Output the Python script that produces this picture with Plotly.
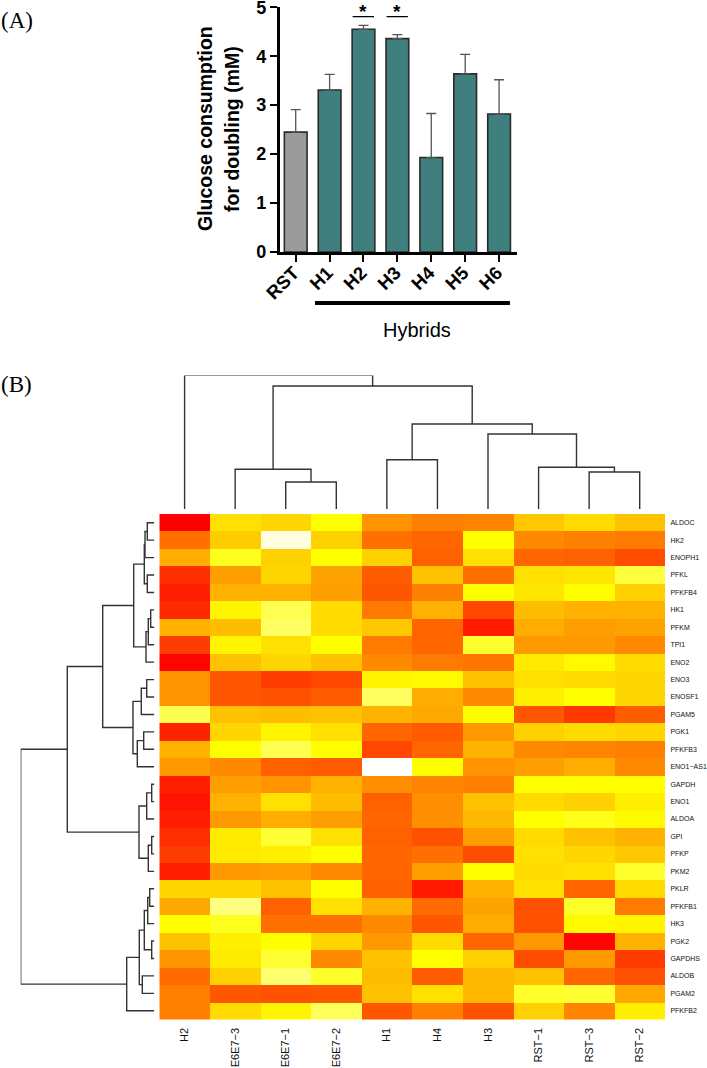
# -*- coding: utf-8 -*-
import plotly.graph_objects as go

W, H = 707, 1068

# panel A
groups = ["RST", "H1", "H2", "H3", "H4", "H5", "H6"]
glucose = [2.45, 3.31, 4.55, 4.36, 1.93, 3.64, 2.82]
glucose_err = [0.46, 0.32, 0.08, 0.08, 0.90, 0.40, 0.70]
bar_colors = ["#9b9b9b", "#3f7f7d", "#3f7f7d", "#3f7f7d", "#3f7f7d", "#3f7f7d", "#3f7f7d"]
signif = ["H2", "H3"]

# panel B
samples = ["H2", "E6E7−3", "E6E7−1", "E6E7−2", "H1", "H4", "H3", "RST−1", "RST−3", "RST−2"]
genes = ["ALDOC", "HK2", "ENOPH1", "PFKL", "PFKFB4", "HK1", "PFKM", "TPI1", "ENO2", "ENO3",
         "ENOSF1", "PGAM5", "PGK1", "PFKFB3", "ENO1−AS1", "GAPDH", "ENO1", "ALDOA", "GPI",
         "PFKP", "PKM2", "PKLR", "PFKFB1", "HK3", "PGK2", "GAPDHS", "ALDOB", "PGAM2", "PFKFB2"]
expr = [
    [0, 44, 42, 50, 29, 25, 26, 39, 43, 38],
    [22, 40, 94, 41, 22, 20, 50, 27, 25, 24],
    [34, 56, 41, 50, 41, 19, 44, 20, 19, 15],
    [9, 31, 42, 32, 18, 38, 22, 44, 45, 62],
    [6, 35, 35, 31, 17, 25, 50, 45, 50, 41],
    [8, 48, 66, 43, 24, 35, 14, 37, 35, 35],
    [35, 37, 69, 43, 39, 20, 5, 34, 31, 32],
    [12, 48, 44, 50, 24, 20, 59, 30, 30, 27],
    [1, 38, 42, 38, 27, 24, 23, 46, 49, 43],
    [29, 17, 12, 14, 48, 49, 38, 44, 43, 42],
    [29, 17, 16, 18, 69, 34, 27, 47, 50, 42],
    [66, 38, 37, 38, 35, 33, 50, 17, 11, 18],
    [7, 42, 48, 44, 20, 18, 30, 41, 43, 42],
    [35, 50, 66, 50, 14, 20, 35, 27, 26, 25],
    [30, 27, 19, 18, 100, 50, 29, 31, 34, 27],
    [6, 31, 29, 35, 28, 26, 25, 50, 50, 50],
    [4, 35, 44, 37, 19, 28, 38, 43, 41, 47],
    [6, 30, 34, 31, 20, 28, 36, 50, 55, 49],
    [9, 46, 60, 44, 19, 16, 31, 43, 38, 35],
    [12, 46, 47, 50, 20, 22, 15, 44, 42, 39],
    [6, 30, 31, 27, 20, 31, 50, 43, 44, 59],
    [42, 42, 38, 50, 19, 5, 35, 44, 20, 43],
    [33, 75, 19, 44, 35, 21, 32, 16, 58, 24],
    [50, 56, 22, 22, 27, 17, 34, 16, 49, 48],
    [38, 47, 50, 42, 30, 43, 20, 30, 1, 35],
    [29, 46, 60, 27, 38, 50, 41, 15, 30, 12],
    [21, 41, 72, 58, 37, 18, 36, 38, 20, 16],
    [25, 17, 16, 17, 38, 44, 36, 58, 60, 33],
    [25, 43, 48, 68, 17, 25, 16, 41, 26, 47],
]

# merges: (left, right, height), an int points at an earlier merge
col_merges = [
    ("E6E7−1", "E6E7−2", 2.7),
    ("E6E7−3", 0, 3.97),
    ("H1", "H4", 4.93),
    ("RST−3", "RST−2", 3.7),
    ("RST−1", 3, 4.17),
    ("H3", 4, 7.5),
    (2, 5, 8.5),
    (1, 6, 12.3),
    ("H2", 7, 13.36),
]
row_merges = [
    ("ALDOC", "HK2", 0.70),
    (0, "ENOPH1", 0.93),
    ("PFKL", "PFKFB4", 0.70),
    (1, 2, 1.0),
    ("HK1", "PFKM", 0.36),
    (4, "TPI1", 0.60),
    (5, "ENO2", 0.83),
    (3, 6, 2.06),
    ("ENO3", "ENOSF1", 0.76),
    (8, "PGAM5", 1.30),
    ("PGK1", "PFKFB3", 1.06),
    (10, "ENO1−AS1", 1.70),
    (9, 11, 2.13),
    (7, 12, 5.16),
    ("GAPDH", "ENO1", 0.26),
    (14, "ALDOA", 0.76),
    ("GPI", "PFKP", 0.26),
    (16, "PKM2", 0.60),
    (15, 17, 1.53),
    (13, 18, 8.70),
    ("PKLR", "PFKFB1", 0.46),
    (20, "HK3", 0.66),
    ("PGK2", "GAPDHS", 0.26),
    (21, 22, 1.0),
    ("ALDOB", "PGAM2", 1.2),
    (23, 24, 1.5),
    (25, "PFKFB2", 2.76),
    (19, 26, 13.36),
]


def xdom(a, b):
    return [a / W, b / W]


def ydom(top, bottom):
    return [1 - bottom / H, 1 - top / H]


def tree_lines(merges, leaves):
    # walk the merges and return the bracket lines as (position, height) lists
    pos, hgt = [], []
    nodes = []
    def where(n):
        if isinstance(n, int):
            return nodes[n]
        return (leaves.index(n), 0)
    for a, b, h in merges:
        pa, ha = where(a)
        pb, hb = where(b)
        pos += [pa, pa, pb, pb, None]
        hgt += [ha, h, h, hb, None]
        nodes.append(((pa + pb) / 2, h))
    return pos, hgt


fig = go.Figure()

# bars
fig.add_trace(go.Bar(
    x=groups, y=glucose, width=0.67, xaxis="x", yaxis="y",
    marker=dict(color=bar_colors, line=dict(color="#2a2a2a", width=1.6)),
    error_y=dict(type="data", array=glucose_err, arrayminus=[0] * len(groups), symmetric=False,
                 color="#555555", thickness=1.3, width=5),
    showlegend=False,
))

# heatmap
fig.add_trace(go.Heatmap(
    x=samples, y=genes, z=expr, xaxis="x2", yaxis="y2", zmin=0, zmax=100,
    colorscale=[[0, "#ff0000"], [0.5, "#ffff00"], [1, "#ffffff"]],
    showscale=False,
))

# dendrograms
cx, cy = tree_lines(col_merges, samples)
fig.add_trace(go.Scatter(x=cx, y=cy, mode="lines", xaxis="x3", yaxis="y3", showlegend=False,
                         line=dict(color="#333333", width=1.4), cliponaxis=False))
rx, ry = tree_lines(row_merges, genes)
fig.add_trace(go.Scatter(x=ry, y=rx, mode="lines", xaxis="x4", yaxis="y4", showlegend=False,
                         line=dict(color="#333333", width=1.4), cliponaxis=False))

hidden = dict(visible=False, fixedrange=True)
fig.update_layout(
    template="none",
    width=W, height=H, autosize=False, margin=dict(l=0, r=0, t=0, b=0, autoexpand=False),
    paper_bgcolor="white", plot_bgcolor="rgba(0,0,0,0)",
    font=dict(family="Liberation Sans", color="black"),
    xaxis=dict(domain=xdom(279.5, 516.7), range=[-0.478, 6.52], type="category",
               categoryorder="array", categoryarray=groups, showgrid=False, zeroline=False,
               showline=True, linecolor="black", linewidth=2.5, ticks="outside", ticklen=7,
               tickwidth=2, tickcolor="black", tickangle=-45, automargin=False,
               ticklabelstandoff=-7, ticklabelshift=-2,
               tickfont=dict(family="Liberation Sans", size=18.5, color="black", weight="bold")),
    yaxis=dict(domain=ydom(7.3, 252), range=[0, 5], tickvals=[0, 1, 2, 3, 4, 5], showgrid=False,
               zeroline=False, showline=True, linecolor="black", linewidth=2.5, ticks="outside",
               ticklen=7, tickwidth=2, tickcolor="black", automargin=False,
               ticklabeloverflow="allow",
               tickfont=dict(family="Liberation Sans", size=18, color="black", weight="bold")),
    xaxis2=dict(domain=xdom(159.3, 665), type="category", categoryorder="array",
                categoryarray=samples, showgrid=False, zeroline=False, ticks="outside", ticklen=3,
                tickcolor="white", tickangle=-90, anchor="y2", automargin=False,
                ticklabeloverflow="allow",
                tickfont=dict(family="Liberation Sans", size=11, color="#111111")),
    yaxis2=dict(domain=ydom(514, 1019.5), type="category", categoryorder="array",
                categoryarray=genes, autorange="reversed", side="right", showgrid=False,
                zeroline=False, ticks="outside", ticklen=3, tickcolor="white", anchor="x2",
                automargin=False, ticklabeloverflow="allow",
                tickfont=dict(family="Liberation Sans", size=7, color="#111111")),
    xaxis3=dict(domain=xdom(159.3, 665), range=[-0.5, 9.5], anchor="y3", **hidden),
    yaxis3=dict(domain=ydom(375.4, 509), range=[0, 13.36], anchor="x3", **hidden),
    xaxis4=dict(domain=xdom(20.7, 154.3), range=[13.36, 0], anchor="y4", **hidden),
    yaxis4=dict(domain=ydom(514, 1019.5), range=[28.5, -0.5], anchor="x4", **hidden),
)

# significance marks and the hybrid bracket
for g in signif:
    i = groups.index(g)
    fig.add_shape(type="line", xref="x", yref="y", x0=i - 0.32, x1=i + 0.31, y0=4.81, y1=4.81,
                  line=dict(color="black", width=1.3))
    fig.add_annotation(x=g, y=4.81, xref="x", yref="y", text="<b>*</b>", showarrow=False,
                       yanchor="bottom", yshift=-7, font=dict(size=19))
fig.add_shape(type="line", xref="x", yref="paper", x0=0.57, x1=6.32, y0=1 - 303 / H, y1=1 - 303 / H,
              line=dict(color="black", width=4))
fig.add_annotation(x=416.7 / W, y=1 - 330 / H, xref="paper", yref="paper", text="Hybrids",
                   showarrow=False, xanchor="center", yanchor="middle", font=dict(size=20))

# axis title, two lines set apart by hand
for txt, px in [("Glucose consumption", 205), ("for doubling (mM)", 232)]:
    fig.add_annotation(x=px / W, y=1 - 129 / H, xref="paper", yref="paper", text="<b>%s</b>" % txt,
                       textangle=-90, showarrow=False, xanchor="center", yanchor="middle",
                       font=dict(size=19.5))

# panel letters
for txt, py in [("(A)", 21), ("(B)", 385)]:
    fig.add_annotation(x=0, y=1 - py / H, xref="paper", yref="paper", text=txt, showarrow=False,
                       xanchor="left", yanchor="middle", borderpad=0,
                       font=dict(family="Liberation Serif", size=23))

fig.write_html("out.html", config=dict(displayModeBar=False),
               post_script="document.body.style.margin='0'")
